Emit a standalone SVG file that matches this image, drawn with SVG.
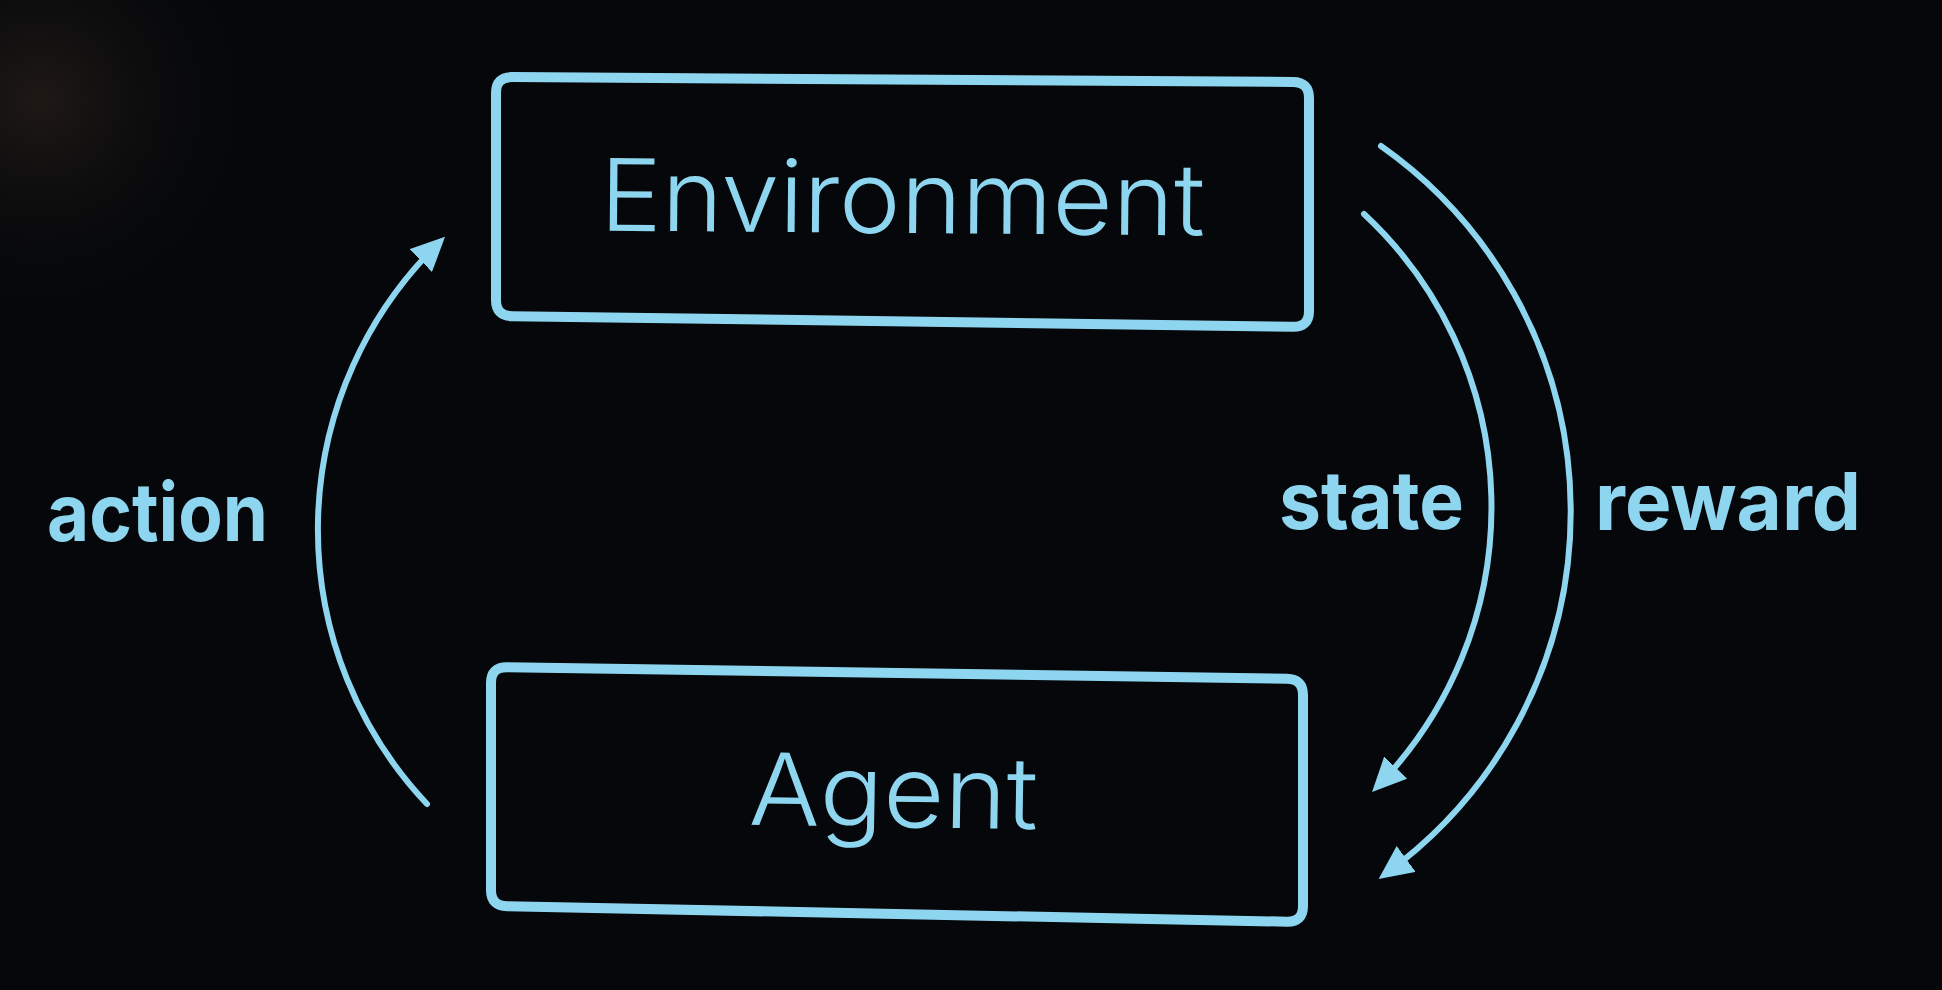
<svg xmlns="http://www.w3.org/2000/svg" width="1942" height="990" viewBox="0 0 1942 990">
  <defs>
    <radialGradient id="glow" cx="40" cy="100" r="240" gradientUnits="userSpaceOnUse">
      <stop offset="0" stop-color="#221b17" stop-opacity="0.9"/>
      <stop offset="1" stop-color="#05070a" stop-opacity="0"/>
    </radialGradient>
    <marker id="ah" markerUnits="userSpaceOnUse" viewBox="0 0 34 32" markerWidth="34" markerHeight="32" refX="24" refY="16" orient="auto">
      <path d="M0,0 L34,16 L0,32 Z" fill="#8ed6f0"/>
    </marker>
    <style>
      .box { fill: none; stroke: #8ed6f0; stroke-width: 10; stroke-linejoin: round; }
      .title { fill: #8ed6f0; font-family: "Inter", "Roboto", "Liberation Sans", sans-serif; font-weight: 300; font-size: 100px; }
      .edge { fill: none; stroke: #8ed6f0; stroke-width: 6; stroke-linecap: round; }
      .lbl { fill: #8ed6f0; font-family: "Inter", "Roboto", "Liberation Sans", sans-serif; font-weight: 700; font-size: 80px; font-variant-ligatures: none; }
    </style>
  </defs>
  <rect x="0" y="0" width="1942" height="990" fill="#05070a"/>
  <rect x="0" y="0" width="400" height="400" fill="url(#glow)"/>

  <g id="node-environment">
    <path class="box" d="M512,77.1 L1293,81.9 Q1309,82 1309,98 L1309,311 Q1309,327 1293,326.8 L512,316.2 Q496,316 496,300 L496,93 Q496,77 512,77.1 Z"/>
    <text class="title" x="600" y="233" textLength="605" lengthAdjust="spacingAndGlyphs" transform="rotate(0.45 902 200)">Environment</text>
  </g>

  <g id="node-agent">
    <path class="box" d="M507,667.2 L1287,678.8 Q1303,679 1303,695 L1303,906 Q1303,922 1287,921.7 L507,906.3 Q491,906 491,890 L491,683 Q491,667 507,667.2 Z"/>
    <text class="title" x="749" y="827" textLength="289" lengthAdjust="spacingAndGlyphs" transform="rotate(0.9 893 800)">Agent</text>
  </g>

  <g id="connectors">
    <path id="edge-action" class="edge" marker-end="url(#ah)" d="M427,804 A400,400 0 0 1 437.9,243.8"/>
    <path id="edge-state" class="edge" marker-end="url(#ah)" d="M1364,214 A400,400 0 0 1 1379,784.9"/>
    <path id="edge-reward" class="edge" marker-end="url(#ah)" d="M1381,146 A447,447 0 0 1 1386.7,873"/>
  </g>

  <g id="edge-labels">
    <text class="lbl" x="47" y="541" textLength="221" lengthAdjust="spacingAndGlyphs">action</text>
    <text class="lbl" x="1279" y="529" textLength="185" lengthAdjust="spacingAndGlyphs">state</text>
    <text class="lbl" x="1595" y="530" textLength="266" lengthAdjust="spacingAndGlyphs">reward</text>
  </g>
</svg>
